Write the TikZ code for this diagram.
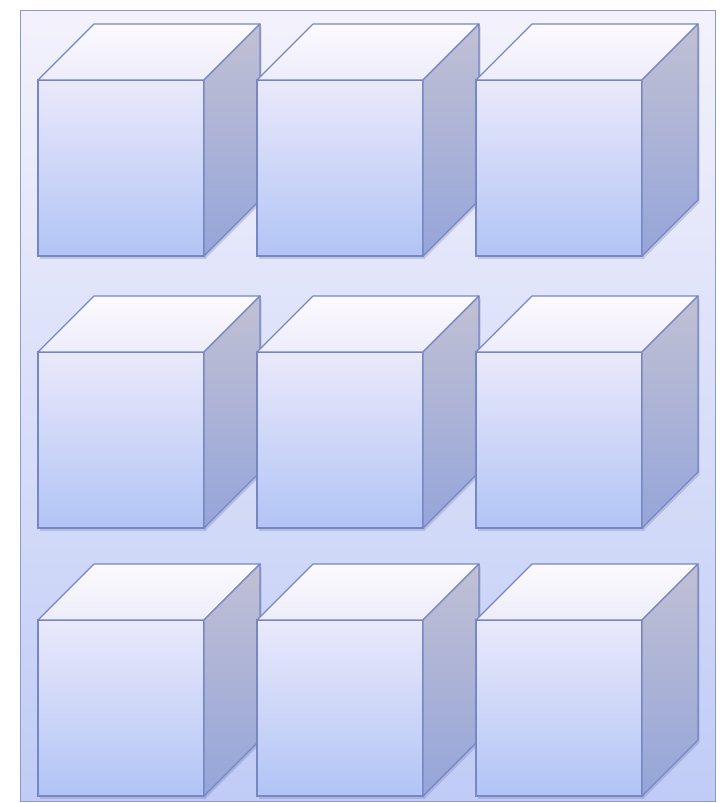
\documentclass[tikz,border=0pt]{standalone}
\usepackage{xcolor}
\usetikzlibrary{positioning,calc,shadows}
\definecolor{edge}{HTML}{7787C2}
\definecolor{panelT}{HTML}{F3F2FC}
\definecolor{panelB}{HTML}{C0CCF6}
\definecolor{frontT}{HTML}{EAE9FB}
\definecolor{frontB}{HTML}{B1C4F5}
\definecolor{topT}{HTML}{FCFAFE}
\definecolor{topB}{HTML}{EDEDFA}
\definecolor{sideT}{HTML}{C1C0D4}
\definecolor{sideB}{HTML}{95A5D9}
\definecolor{shade}{HTML}{5A6AA8}
\tikzset{
  panel/.style={draw=edge!85, line width=1pt, top color=panelT, bottom color=panelB},
  soft shadow/.style={drop shadow={shadow xshift=1.5pt, shadow yshift=-2.5pt,
                opacity=0.25, fill=shade}},
  front/.style={draw=edge, line width=1.2pt, top color=frontT, bottom color=frontB,
                minimum width=166pt, minimum height=176pt, inner sep=0pt, outer sep=0pt,
                anchor=north west, soft shadow},
  topface/.style={draw=edge, line width=1.2pt, top color=topT, bottom color=topB, line join=round},
  sideface/.style={draw=edge, line width=1.2pt, top color=sideT, bottom color=sideB,
                   line join=round, soft shadow},
}
\begin{document}
\begin{tikzpicture}[x=1pt,y=-1pt]
  \useasboundingbox (0,0) rectangle (721,803);
  \draw[panel] (20,10) rectangle (715,801);
  % 3x3 cubes, left to right so the next front hides the side
  \foreach \row/\cy in {1/80,2/352,3/620}{
    \foreach \col/\cx in {1/38,2/257,3/476}{
      \node[front] (f\row\col) at (\cx,\cy) {};
      \filldraw[topface] (f\row\col.north west) -- ++(56,-56) -- ++(166,0)
        -- (f\row\col.north east) -- cycle;
      \filldraw[sideface] (f\row\col.north east) -- ++(56,-56) -- ++(0,176)
        -- (f\row\col.south east) -- cycle;
    }
  }
\end{tikzpicture}
\end{document}
